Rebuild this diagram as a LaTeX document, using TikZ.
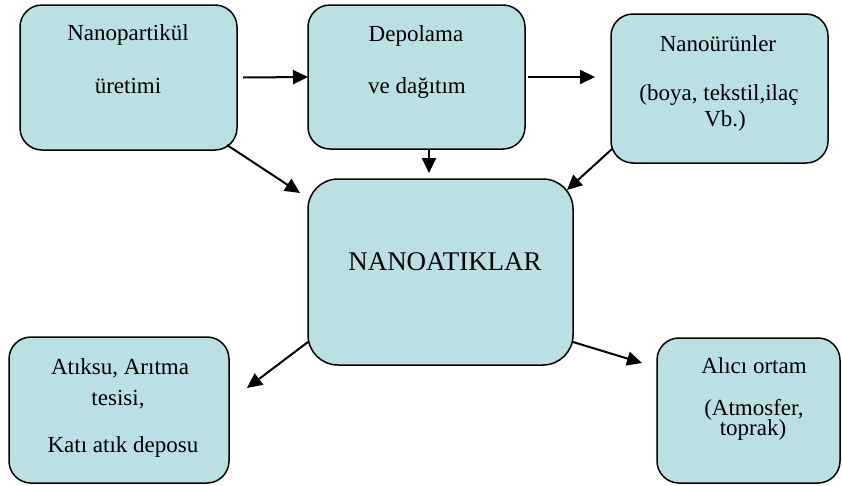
\documentclass[tikz,border=0pt]{standalone}
\usepackage{fontspec}
\setmainfont{Liberation Serif}
\usetikzlibrary{arrows.meta}
\definecolor{boxfill}{HTML}{BBE0E3}
\begin{document}
\begin{tikzpicture}[x=1pt,y=-1pt,
  box/.style={draw=black,line width=1.5pt,fill=boxfill,rounded corners=22pt,inner sep=0pt,outer sep=0pt},
  lbl/.style={anchor=base,inner sep=0pt,font=\fontsize{23}{28}\selectfont},
  big/.style={anchor=base,inner sep=0pt,font=\fontsize{27}{32}\selectfont},
  arr/.style={line width=2pt,-{Triangle[length=15pt,width=14pt]}}]
\useasboundingbox (0,0) rectangle (842,485);
% boxes
\node[box,minimum width=217pt,minimum height=145pt] (b1) at (128.5,77.5) {};
\node[box,minimum width=217pt,minimum height=144pt] (b2) at (416.5,77) {};
\node[box,minimum width=217pt,minimum height=149pt] (b3) at (719.5,88.5) {};
\node[box,rounded corners=30pt,minimum width=265pt,minimum height=186pt] (b4) at (440.5,272) {};
\node[box,minimum width=220pt,minimum height=146pt] (b5) at (119,410) {};
\node[box,minimum width=183pt,minimum height=145pt] (b6) at (748.5,410.5) {};
% texts
\node[lbl] (t1a) at (128,40) {Nanopartikül};
\node[lbl] (t1b) at (128,93) {üretimi};
\node[lbl] (t2a) at (416,41) {Depolama};
\node[lbl] (t2b) at (417,93) {ve dağıtım};
\node[lbl] (t3a) at (718,51) {Nanoürünler};
\node[lbl] (t3b) at (719,100) {(boya, tekstil,ilaç};
\node[lbl] (t3c) at (725,126) {Vb.)};
\node[big] (t4) at (445,270) {NANOATIKLAR};
\node[lbl] (t5a) at (120,374) {Atıksu, Arıtma};
\node[lbl] (t5b) at (118,405) {tesisi,};
\node[lbl] (t5c) at (123,452) {Katı atık deposu};
\node[lbl] (t6a) at (754,373) {Alıcı ortam};
\node[lbl] (t6b) at (754,415) {(Atmosfer,};
\node[lbl] (t6c) at (753,435) {toprak)};
% arrows
\draw[arr] ([xshift=6pt]b1.east) -- (b2.west);
\draw[arr] ([xshift=3pt]b2.east) -- ++(67,0);
\draw[arr] ([xshift=12.5pt]b2.south) -- ++(0,24);
\draw[arr] ([shift={(-10,-5)}]b1.south east) -- ++(73,48);
\draw[arr] ([shift={(1,-14)}]b3.south west) -- ++(-45,41);
\draw[arr] ([shift={(0,-23)}]b4.south west) -- ++(-61,46);
\draw[arr] ([shift={(0,-23)}]b4.south east) -- ++(69,21);
\end{tikzpicture}
\end{document}
